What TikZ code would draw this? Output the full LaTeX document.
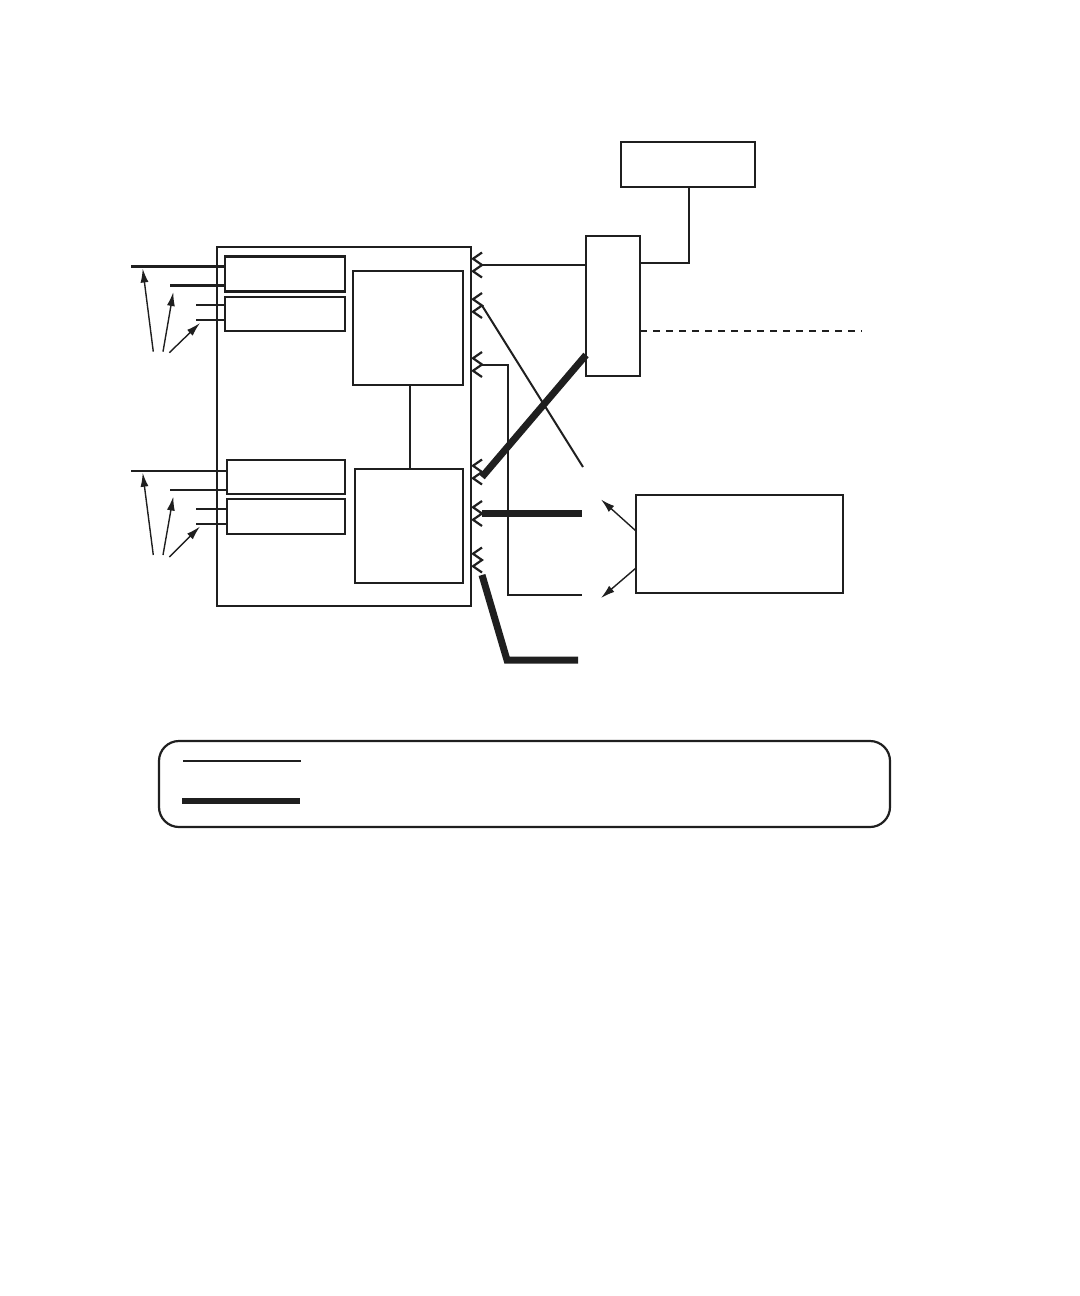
\documentclass[tikz,border=0pt]{standalone}
\usetikzlibrary{arrows.meta}
\begin{document}
\begin{tikzpicture}[x=0.5pt,y=-0.5pt,
  box/.style={draw=black!88,line width=1.35pt,inner sep=0pt,outer sep=0pt},
  wire/.style={draw=black!88,line width=1.3pt},
  thinwire/.style={draw=black!88,line width=1pt},
  thickwire/.style={draw=black!88,line width=3.5pt},
  chevline/.style={draw=black!88,line width=1.1pt},
  pointer/.style={draw=black!88,line width=0.7pt,-{Latex[length=7pt,width=4pt]}},
  legendbox/.style={draw=black!88,line width=1.1pt,rounded corners=10pt,inner sep=0pt}]
\useasboundingbox (0,0) rectangle (1080,1296);
\newcommand\chevpair[2]{%
  \draw[chevline] (482,{#1-12.5}) -- (473,{#1-6.25}) -- (482,#1) -- (473,{#1+6.25}) -- (482,{#1+12.5});
  \coordinate (#2) at (482,#1);}
% boxes
\node[box,minimum width=127pt,minimum height=179.5pt] (main) at (344,426.5) {};
\node[box,minimum width=60pt,minimum height=17.5pt] (s1) at (285,274) {};
\node[box,minimum width=60pt,minimum height=17pt] (s2) at (285,314) {};
\node[box,minimum width=55pt,minimum height=57pt] (up) at (408,328) {};
\node[box,minimum width=59pt,minimum height=17pt] (s3) at (286,477) {};
\node[box,minimum width=59pt,minimum height=17.5pt] (s4) at (286,516.5) {};
\node[box,minimum width=54pt,minimum height=57pt] (lo) at (409,526) {};
\node[box,minimum width=67pt,minimum height=22.5pt] (tr) at (688,164.5) {};
\node[box,minimum width=27pt,minimum height=70pt] (tall) at (613,306) {};
\node[box,minimum width=103.5pt,minimum height=49pt] (rl) at (739.5,544) {};
\node[legendbox,minimum width=365.5pt,minimum height=43pt] (leg) at (524.5,784) {};
% link between inner boxes
\draw[wire] (up.south -| 410,0) -- (lo.north -| 410,0);
% left lines, upper group
\coordinate (l1) at (131,266.7);
\coordinate (l2) at (170,285.7);
\coordinate (l3) at (196,305);
\coordinate (l4) at (196,320);
\draw[wire] (l1) -- (l1 -| s1.west);
\draw[wire] (l2) -- (l2 -| s1.west);
\draw[wire] (l3) -- (l3 -| s2.west);
\draw[wire] (l4) -- (l4 -| s2.west);
\coordinate (a1) at (153.3,351.7); \coordinate (t1) at (142.7,268.5);
\coordinate (a2) at (163,351.7);   \coordinate (t2) at (173.3,292);
\coordinate (a3) at (169.3,352.7); \coordinate (t3) at (200,323);
\draw[pointer] (a1) -- (t1);
\draw[pointer] (a2) -- (t2);
\draw[pointer] (a3) -- (t3);
% left lines, lower group
\coordinate (m1) at (131,471);
\coordinate (m2) at (170,490);
\coordinate (m3) at (196,509);
\coordinate (m4) at (196,524);
\draw[wire] (m1) -- (m1 -| s3.west);
\draw[wire] (m2) -- (m2 -| s3.west);
\draw[wire] (m3) -- (m3 -| s4.west);
\draw[wire] (m4) -- (m4 -| s4.west);
\coordinate (b1) at (153.3,555);   \coordinate (u1) at (142.7,472.7);
\coordinate (b2) at (163,555);     \coordinate (u2) at (173.3,496.5);
\coordinate (b3) at (169.3,557);   \coordinate (u3) at (200,526.5);
\draw[pointer] (b1) -- (u1);
\draw[pointer] (b2) -- (u2);
\draw[pointer] (b3) -- (u3);
% connectors on the right edge
\chevpair{265}{c1}
\chevpair{305.5}{c2}
\chevpair{364.5}{c3}
\chevpair{472}{c4}
\chevpair{513.5}{c5}
\chevpair{560}{c6}
% wires
\draw[wire] (c1) -- (c1 -| tall.west);
\coordinate (e2) at (583,467);
\draw[thinwire] (c2) -- (e2);
\coordinate (e3) at (582,595);
\draw[thinwire] (c3) -- (508,364.5) -- (508,595) -- (e3);
\coordinate (e4) at (586,355);
\draw[thickwire] (482,477) -- (e4);
\coordinate (e5) at (582,513.5);
\draw[thickwire] (c5) -- (e5);
\coordinate (e6) at (578,660);
\draw[thickwire] (482,575) -- (507,660) -- (e6);
% right side
\draw[wire] (tr.south -| 689,0) -- (689,263) -- (tall.east |- 0,263);
\coordinate (dashend) at (862,331);
\draw[wire,dash pattern=on 3.5pt off 3pt,line width=1.2pt] (tall.east |- 0,331) -- (dashend);
\coordinate (p1) at (601,499.5);
\coordinate (p2) at (601,598);
\draw[pointer] (rl.west |- 0,531) -- (p1);
\draw[pointer] (rl.west |- 0,568) -- (p2);
% legend
\coordinate (g1) at (183,761); \coordinate (g2) at (301,761);
\coordinate (g3) at (182,801); \coordinate (g4) at (300,801);
\draw[wire] (g1) -- (g2);
\draw[draw=black!88,line width=3pt] (g3) -- (g4);
\end{tikzpicture}
\end{document}
